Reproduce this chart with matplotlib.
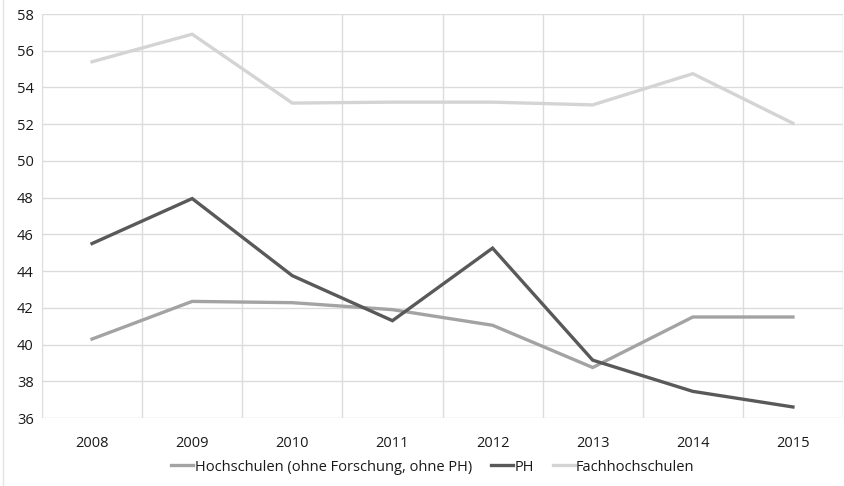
import numpy as np
import matplotlib.pyplot as plt
from matplotlib.lines import Line2D

years = ["2008", "2009", "2010", "2011", "2012", "2013", "2014", "2015"]
hochschulen = [40.3, 42.35, 42.28, 41.9, 41.05, 38.75, 41.5, 41.5]
ph = [45.5, 47.95, 43.75, 41.3, 45.25, 39.15, 37.45, 36.6]
fachhochschulen = [55.4, 56.9, 53.15, 53.2, 53.2, 53.05, 54.75, 52.05]

names = ["Hochschulen (ohne Forschung, ohne PH)", "PH", "Fachhochschulen"]
colors = ["#a3a3a3", "#595959", "#d4d4d4"]

plt.rcParams["font.family"] = ["Open Sans", "DejaVu Sans"]

fig = plt.figure(figsize=(8.45, 4.86), dpi=100)
ax = fig.add_axes([42 / 845, 1 - 418 / 486, 801 / 845, 404 / 486])

x = np.arange(len(years))
for vals, c in zip([hochschulen, ph, fachhochschulen], colors):
    ax.plot(x, vals, color=c, lw=2.4, solid_joinstyle="miter")

ax.set_xlim(-0.5, len(years) - 0.5)
ax.set_ylim(36, 58)
ax.set_yticks(np.arange(36, 59, 2))
ax.set_xticks(x)
ax.set_xticklabels(years)
ax.grid(False)
for yv in np.arange(36, 59, 2):
    ax.axhline(yv, color="#dcdcdc", lw=1, zorder=0)
for xv in np.arange(-0.5, len(years), 1):
    ax.axvline(xv, color="#dcdcdc", lw=1, zorder=0)
for s in ax.spines.values():
    s.set_visible(False)
ax.tick_params(which="both", length=0, labelsize=10.5, colors="#1a1a1a")
ax.tick_params(axis="x", pad=13)
ax.tick_params(axis="y", pad=6)

# faint outer border on the left edge
fig.add_artist(Line2D([3 / 845, 3 / 845], [0.0, 1.0], color="#e4e4e4", lw=1))

handles = [Line2D([], [], color=c, lw=2.4) for c in colors]
fig.legend(handles, names, loc="center", bbox_to_anchor=(433 / 845, 1 - 467 / 486),
           ncol=3, frameon=False, fontsize=10.5, handlelength=1.5, handletextpad=0.1,
           columnspacing=1.3, labelcolor="#1a1a1a")

fig.savefig("out.png", dpi=100)
